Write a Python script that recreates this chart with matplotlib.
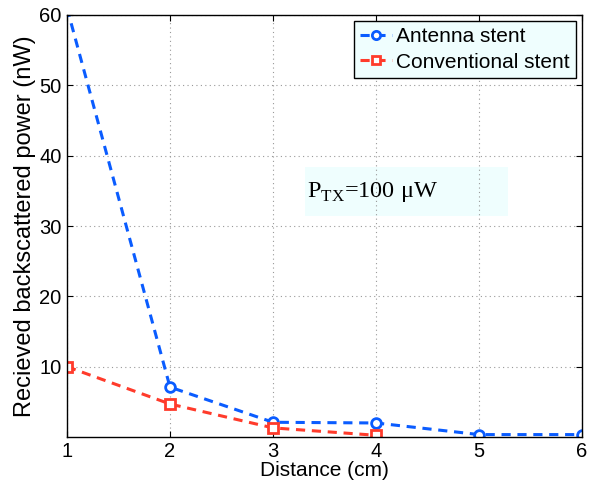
import matplotlib
matplotlib.use("Agg")
import matplotlib.pyplot as plt
from matplotlib.patches import Rectangle

distance = [1, 2, 3, 4, 5, 6]
antenna = [61.0, 7.1, 2.1, 2.0, 0.35, 0.35]
conv_x = [1, 2, 3, 4]
conventional = [10.0, 4.7, 1.3, 0.25]
yticks = [10, 20, 30, 40, 50, 60]

plt.rcParams['font.family'] = ['Liberation Sans', 'DejaVu Sans']
plt.rcParams['mathtext.fontset'] = 'custom'
plt.rcParams['mathtext.rm'] = 'Liberation Serif'

fig = plt.figure(figsize=(5.95, 4.87), dpi=100)
ax = fig.add_axes([0.1126, 0.1033, 0.8656, 0.8659])

blue = '#0a5cff'
red = '#ff3b2b'
ax.plot(distance, antenna, linestyle='--', color=blue, lw=2.2, marker='o',
        ms=7, mfc='white', mec=blue, mew=2, label='Antenna stent', dashes=(3, 2.2))
ax.plot(conv_x, conventional, linestyle='--', color=red, lw=2.2, marker='s',
        ms=7, mfc='white', mec=red, mew=2, label='Conventional stent', dashes=(3, 2.2))

ax.set_xlim(1, 6)
ax.set_ylim(0.05, 60)
ax.set_xticks(distance)
ax.set_yticks(yticks)
ax.grid(True, linestyle=(0, (1, 3)), color='#999999', lw=0.8)
ax.tick_params(direction='in', top=True, right=True, labelsize=14.5, length=4, pad=4)
for s in ax.spines.values():
    s.set_linewidth(1.0)

ax.set_xlabel('Distance (cm)', fontsize=15, labelpad=0)
ax.set_ylabel('Recieved backscattered power (nW)', fontsize=17, labelpad=2)

leg = ax.legend(loc='upper right', fontsize=15, frameon=True, fancybox=False,
                handlelength=1.5, handletextpad=0.2, borderpad=0.3,
                labelspacing=0.3, borderaxespad=0.3, edgecolor='black',
                facecolor='#effefe', framealpha=1, markerscale=0.85)
leg.get_frame().set_linewidth(1.0)

# annotation box (data coordinates of its corners)
ax.add_patch(Rectangle((3.31, 31.4), 1.97, 7.0, facecolor='#effefe',
                       edgecolor='none', zorder=1.5))
ax.text(3.33, 34.9, r'P$_{\mathregular{TX}}$=100 $\mathregular{\mu}$W', ha='left', va='center',
        fontsize=17.5, family='Liberation Serif', zorder=3)

fig.savefig('out.png', dpi=100)
